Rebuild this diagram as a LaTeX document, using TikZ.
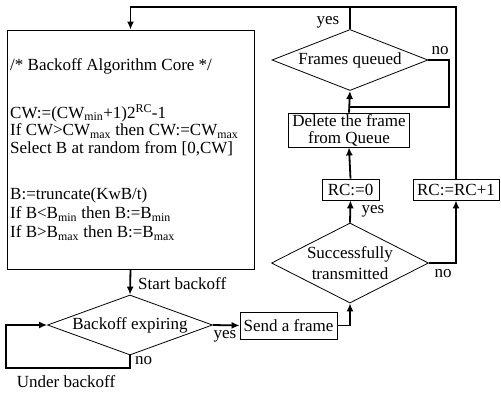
\documentclass[tikz,border=0pt]{standalone}
\usepackage{fontspec}
\setmainfont{Liberation Serif}
\usetikzlibrary{arrows.meta,shapes.geometric}
\begin{document}
\begin{tikzpicture}[x=1pt,y=-1pt,
  txt/.style={font=\fontsize{17}{18}\selectfont, inner sep=0pt},
  box/.style={draw, line width=0.8pt, font=\fontsize{17}{17}\selectfont, inner sep=0pt, align=center},
  dia/.style={diamond, draw, line width=0.8pt, inner sep=0pt},
  conn/.style={line width=1.8pt, -{Latex[length=8pt,width=7pt]}},
  wire/.style={line width=1.8pt}
]
\useasboundingbox (0,0) rectangle (501,392);
% main box
\node[box, minimum width=247pt, minimum height=239pt] (big) at (130.5,149.5) {};
\node[txt, anchor=west] (l1) at (10,66) {/* Backoff Algorithm Core */};
\node[txt, anchor=west] (l2) at (10,113) {CW:=(CW\textsubscript{min}+1)2\textsuperscript{RC}-1};
\node[txt, anchor=west] (l3) at (10,131) {If CW>CW\textsubscript{max} then CW:=CW\textsubscript{max}};
\node[txt, anchor=west] (l4) at (10,149) {Select B at random from [0,CW]};
\node[txt, anchor=west] (l5) at (10,195) {B:=truncate(KwB/t)};
\node[txt, anchor=west] (l6) at (10,214) {If B<B\textsubscript{min} then B:=B\textsubscript{min}};
\node[txt, anchor=west] (l7) at (10,233) {If B>B\textsubscript{max} then B:=B\textsubscript{max}};
% diamonds
\node[dia, minimum width=165pt, minimum height=60pt] (bo) at (130,325) {};
\node[txt] (bot) at (bo) {Backoff expiring};
\node[dia, minimum width=157pt, minimum height=80pt] (st) at (350,263) {};
\node[txt, align=center, font=\fontsize{17}{21}\selectfont] (stt) at (st) {Successfully\\transmitted};
\node[dia, minimum width=156pt, minimum height=61pt] (fq) at (350,60) {};
\node[txt] (fqt) at (fq) {Frames queued};
% boxes
\node[box, minimum width=97pt, minimum height=27pt] (send) at (288.5,325.5) {Send a frame};
\node[box, minimum width=57pt, minimum height=21pt] (rc0) at (350.5,189.5) {RC:=0};
\node[box, minimum width=86pt, minimum height=21pt] (rcp) at (456,189.5) {RC:=RC+1};
\node[box, minimum width=121pt, minimum height=34pt] (del) at (349,130) {Delete the frame\\from Queue};
% coordinates
\coordinate (tl) at (130.5,7);
\coordinate (nr) at (449,60);
\coordinate (j1) at (350,107);
\coordinate (lb) at (6,368);
% connectors
\draw[conn] (rcp.north) |- (tl) -- (big.north);
\draw[wire] (fq.north) -- (fq.north |- tl);
\draw[conn] (del.north) -- (fq.south);
\draw[wire] (fq.east) -- (nr) |- (j1);
\draw[conn] (rc0.north) -- (del.south);
\draw[conn] (st.north) -- (rc0.south);
\draw[conn] (st.east) -| (rcp.south);
\draw[conn] (send.east) -| (st.south);
\draw[conn] (bo.east) -- (send.west);
\draw[conn] (big.south) -- (bo.north);
\draw[conn] (bo.south) |- (lb) |- (bo.west);
% labels
\node[txt] (y1) at (328,22) {yes};
\node[txt] (n1) at (440,51) {no};
\node[txt] (y2) at (373,211) {yes};
\node[txt] (n2) at (443,274) {no};
\node[txt] (y3) at (225,336) {yes};
\node[txt, anchor=west] (sb) at (138,284) {Start backoff};
\node[txt, anchor=west] (n3) at (135,361) {no};
\node[txt] (ub) at (66,382) {Under backoff};
\end{tikzpicture}
\end{document}
